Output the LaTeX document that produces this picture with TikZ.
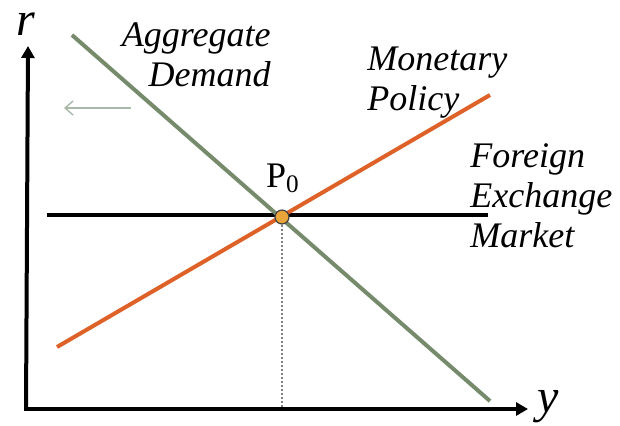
\documentclass[tikz,border=0pt]{standalone}
\usepackage{fontspec}
\setmainfont{Liberation Serif}
\usetikzlibrary{arrows.meta,positioning}
\definecolor{cAD}{HTML}{768A6C}
\definecolor{cMP}{HTML}{DE6128}
\definecolor{cDot}{HTML}{E9A43A}
\definecolor{cHint}{HTML}{A9B8A9}
\tikzset{
  axis/.style={line width=2pt,-{Triangle[length=6pt,width=6.5pt]}},
  curve/.style={line width=2pt},
  lbl/.style={font=\fontsize{18}{20}\selectfont\itshape,inner sep=0pt},
  axlbl/.style={font=\fontsize{24}{26}\selectfont\itshape,inner sep=0pt},
  eq/.style={circle,fill=cDot,draw=black!75,line width=.6pt,inner sep=0pt,minimum size=7pt},
  hint/.style={-{Straight Barb[length=4pt,width=7pt]},line width=.7pt,cHint},
}
\begin{document}
\begin{tikzpicture}[x=0.5pt,y=-0.5pt]
  \useasboundingbox (0,0) rectangle (620,425);
  % axes
  \coordinate (O) at (28,409);
  \coordinate (ytop) at (28,46);
  \coordinate (xend) at (528,409);
  \draw[axis] ([xshift=-1pt]O) -- (ytop);
  \draw[axis] ([xshift=-2pt]O) -- (xend);
  \node[axlbl] (r) at (26,24) {r};
  \node[axlbl] (y) at (548,407) {y};
  % foreign exchange market
  \coordinate (fx0) at (47,215);
  \coordinate (fx1) at (488,215);
  \draw[curve,black] (fx0) -- (fx1);
  % monetary policy
  \coordinate (mp0) at (57,347);
  \coordinate (mp1) at (490,95);
  \draw[curve,cMP] (mp0) -- (mp1);
  % aggregate demand
  \coordinate (ad0) at (72,35);
  \coordinate (ad1) at (490,401);
  \draw[curve,cAD] (ad0) -- (ad1);
  % equilibrium
  \coordinate (ybot) at (282,409);
  \draw[black!50,densely dotted,line width=1pt] (282,217) -- (ybot);
  \node[eq] (P0) at (282,217) {};
  \node[font=\fontsize{18}{20}\selectfont,inner sep=0pt] (P0lbl) at (283,178) {P\textsubscript{0}};
  % shift hint
  \coordinate (h0) at (131,108);
  \coordinate (h1) at (64,108);
  \draw[hint] (h0) -- (h1);
  % labels
  \node[lbl,align=right,anchor=north east] (adlbl) at (271,22) {Aggregate\\Demand};
  \node[lbl,align=left,anchor=north west] (mplbl) at (367,47) {Monetary\\Policy};
  \node[lbl,align=left,anchor=north west] (fxlbl) at (470,143) {Foreign\\Exchange\\Market};
\end{tikzpicture}
\end{document}
